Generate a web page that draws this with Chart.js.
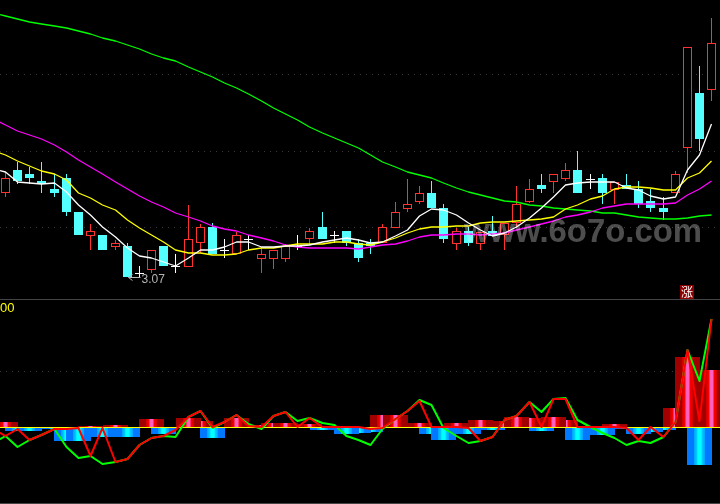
<!DOCTYPE html>
<html>
<head>
<meta charset="utf-8">
<title>K-line chart</title>
<script src="https://cdn.jsdelivr.net/npm/chart.js@4/dist/chart.umd.min.js"></script>
<style>
html,body{margin:0;padding:0;background:#000;overflow:hidden}
#wrap{position:relative;width:720px;height:504px;background:#000}
canvas{position:absolute;left:0;display:block}
#top{top:0}
#bot{top:300px}
.rule{position:absolute;left:0;width:720px;height:1px;background:#444}
</style>
</head>
<body>
<div id="wrap">
<canvas id="top" width="720" height="299"></canvas>
<div class="rule" style="top:299px"></div>
<canvas id="bot" width="720" height="203"></canvas>
<div class="rule" style="top:503px"></div>
</div>
<script>
const open = [3.485,3.60,3.58,3.545,3.505,3.56,3.39,3.27,3.275,3.215,
3.22,3.085,3.10,3.22,3.12,3.115,3.235,3.315,3.20,3.18,
3.255,3.155,3.155,3.155,3.22,3.255,3.315,3.275,3.295,3.235,
3.235,3.235,3.31,3.405,3.44,3.485,3.41,3.23,3.295,3.23,
3.295,3.275,3.335,3.44,3.525,3.54,3.555,3.60,3.555,3.56,
3.50,3.525,3.505,3.445,3.41,3.485,3.71,3.985,4.0];
const close = [3.56,3.545,3.56,3.53,3.485,3.39,3.275,3.295,3.20,3.235,
3.065,3.08,3.20,3.12,3.115,3.255,3.315,3.18,3.195,3.275,
3.25,3.18,3.20,3.22,3.215,3.295,3.255,3.27,3.235,3.16,
3.22,3.315,3.39,3.43,3.485,3.41,3.255,3.295,3.235,3.29,
3.27,3.335,3.43,3.505,3.505,3.58,3.60,3.485,3.55,3.485,
3.54,3.505,3.43,3.41,3.39,3.58,4.215,3.755,4.235];
const high = [3.59,3.64,3.615,3.64,3.58,3.58,3.39,3.33,3.275,3.25,
3.235,3.12,3.20,3.22,3.18,3.425,3.33,3.335,3.255,3.29,
3.275,3.215,3.20,3.23,3.275,3.31,3.39,3.295,3.295,3.255,
3.255,3.33,3.44,3.555,3.52,3.545,3.43,3.31,3.315,3.29,
3.37,3.335,3.52,3.555,3.58,3.58,3.635,3.695,3.58,3.58,
3.54,3.58,3.545,3.505,3.465,3.595,4.215,4.12,4.36];
const low = [3.465,3.53,3.53,3.485,3.465,3.37,3.275,3.20,3.20,3.20,
3.065,3.065,3.085,3.12,3.085,3.115,3.185,3.18,3.16,3.18,
3.20,3.085,3.105,3.14,3.20,3.225,3.255,3.235,3.22,3.14,
3.18,3.235,3.31,3.39,3.43,3.41,3.235,3.20,3.22,3.20,
3.27,3.20,3.315,3.435,3.485,3.485,3.545,3.485,3.505,3.43,
3.43,3.505,3.41,3.39,3.35,3.485,3.585,3.695,3.945];
const ma5 = [3.605,3.59,3.54,3.535,3.53,3.535,3.49,3.425,3.375,3.315,3.265,
3.21,3.17,3.16,3.14,3.12,3.16,3.20,3.20,3.215,3.24,
3.24,3.215,3.215,3.22,3.22,3.225,3.24,3.25,3.26,3.25,
3.235,3.24,3.27,3.30,3.37,3.405,3.40,3.375,3.335,3.30,
3.27,3.285,3.315,3.36,3.41,3.465,3.525,3.535,3.54,3.54,
3.54,3.51,3.50,3.47,3.455,3.465,3.60,3.675,3.83];
const ma10 = [3.695,3.675,3.645,3.62,3.595,3.58,3.55,3.485,3.46,3.425,3.40,
3.35,3.31,3.275,3.24,3.20,3.185,3.185,3.175,3.175,3.18,
3.20,3.21,3.21,3.22,3.23,3.23,3.23,3.24,3.24,3.23,
3.225,3.24,3.26,3.285,3.305,3.315,3.315,3.32,3.32,3.335,
3.34,3.34,3.345,3.35,3.355,3.365,3.405,3.425,3.455,3.47,
3.505,3.515,3.515,3.51,3.50,3.50,3.56,3.585,3.645];
const ma20 = [3.855,3.825,3.795,3.775,3.755,3.725,3.69,3.65,3.615,3.58,3.54,
3.505,3.47,3.44,3.415,3.385,3.365,3.345,3.32,3.305,3.295,
3.275,3.26,3.245,3.225,3.215,3.21,3.21,3.21,3.21,3.205,
3.215,3.225,3.23,3.245,3.265,3.275,3.275,3.28,3.28,3.275,
3.28,3.285,3.30,3.315,3.33,3.345,3.365,3.375,3.39,3.41,
3.42,3.43,3.43,3.43,3.43,3.435,3.475,3.505,3.545];
const ma60 = [4.385,4.37,4.355,4.34,4.33,4.32,4.31,4.295,4.28,4.26,4.245,
4.225,4.205,4.18,4.16,4.145,4.115,4.09,4.065,4.035,4.01,
3.98,3.945,3.91,3.88,3.85,3.815,3.785,3.76,3.735,3.71,
3.675,3.64,3.615,3.59,3.575,3.56,3.535,3.51,3.49,3.475,
3.46,3.445,3.44,3.425,3.42,3.41,3.405,3.40,3.395,3.385,
3.385,3.375,3.365,3.36,3.355,3.355,3.36,3.37,3.375];
const priceTicks = [4.08,3.695,3.315];
const hist = [6,-3,-3,-1,-1,-13,-13,2,-9,3,-9,0,9,-6,0,10,7,-10,0,10,
0,3,5,5,0,4,-2,0,-6,-5,-4,13,13,3,5,-6,-12,5,-6,8,
-2,7,11,10,-3,11,8,-12,0,-7,4,-1,-6,-4,-2,20,71,-37,58];
const signalRed = [-1,-8,-1,-12,-7,-1,-1,0,-28,0,-34,-31,-17,-10,-8,-2,11,17,1,6,13,
2,1,12,16,1,10,1,1,1,1,-1,0,9,17,27,1,1,1,0,-13,
-9,8,12,26,1,29,29,1,1,1,1,0,-12,1,-9,6,78,7,109];
const signalGreen = [-15,-8,-19,-12,-7,-1,-19,-30,-28,-36,-34,-31,-17,-10,-8,-9,11,17,0,6,13,
4,-1,12,16,7,10,5,3,-8,-12,-17,-1,9,17,28,23,0,-8,-15,-13,
-9,8,12,26,16,29,30,8,1,-5,-10,-17,-13,-15,-9,6,78,47,109];
const lowerTicks = [57];
const lowLabel = '3.07';
const badgeText = '涨';
const watermark = 'www.6o7o.com';
const cornerLabel = '00';

const RED='#ff3232', CYAN='#54ffff', WHITE='#ffffff';

class SnapScale extends Chart.LinearScale{
  static id='snap';
  static defaults=Chart.LinearScale.defaults;
  getPixelForValue(v){return Math.floor(super.getPixelForValue(v))+0.5;}
}
Chart.register(SnapScale);

const isDoji=i=>Math.abs(open[i]-close[i])<=0.0051;
const candleColor=i=>isDoji(i)?WHITE:(close[i]>open[i]?RED:CYAN);
const lineOf=(arr,color,width)=>({type:'line',data:arr.map((y,i)=>({x:i-1,y})),borderColor:color,borderWidth:width,borderJoinStyle:'round',pointRadius:0,tension:0,fill:false});
const xAxis={type:'snap',min:-0.442529,max:58.67077,offset:false,display:false,grid:{display:false}};
const yAxis=(min,max,tickVals)=>({type:'linear',min,max,position:'left',display:true,
  afterBuildTicks:s=>{s.ticks=tickVals.map(value=>({value}));},
  afterFit:s=>{s.width=0;},
  ticks:{display:false},
  grid:{color:'#383838',lineWidth:1,drawTicks:false,tickLength:0},
  border:{display:false,dash:[1,5]}});
const base={responsive:false,animation:false,devicePixelRatio:1,
  layout:{padding:0},plugins:{legend:{display:false},tooltip:{enabled:false}},events:[]};

const labelsPlugin={id:'labels',afterDraw(c){
  const ctx=c.ctx,x=c.scales.x,y=c.scales.y;
  ctx.save();
  // low-price marker
  const minLow=Math.min(...low),i=low.indexOf(minLow);
  const px=x.getPixelForValue(i),py=Math.round(y.getPixelForValue(minLow));
  ctx.strokeStyle='#b4b4b4';ctx.lineWidth=1;
  ctx.beginPath();ctx.moveTo(px+1,py+0.5);ctx.lineTo(px+13,py+0.5);
  ctx.moveTo(px+5,py-2.5);ctx.lineTo(px+1,py+0.5);ctx.lineTo(px+5,py+3.5);ctx.stroke();
  ctx.fillStyle='#b4b4b4';ctx.font='12px "Liberation Sans"';ctx.textBaseline='alphabetic';ctx.textAlign='left';
  ctx.fillText(lowLabel,px+14,py+6);
  // badge
  ctx.fillStyle='#8b0000';ctx.fillRect(680,285,14,14);
  ctx.fillStyle='#fff';ctx.font='12px "Noto Sans CJK SC"';ctx.textAlign='center';ctx.textBaseline='middle';
  ctx.fillText(badgeText,687,292);
  // watermark
  ctx.fillStyle='rgba(255,255,255,0.3)';ctx.font='bold 34px "Liberation Sans"';ctx.textAlign='left';ctx.textBaseline='alphabetic';
  ctx.fillText(watermark,464,242,238);
  ctx.restore();
}};

new Chart(document.getElementById('top'),{type:'bar',
  data:{datasets:[
    lineOf(ma5,WHITE,1.3),
    lineOf(ma10,'#ffff00',1.3),
    lineOf(ma20,'#ff00ff',1.3),
    lineOf(ma60,'#00ff00',1.3),
    {label:'body',data:open.map((o,i)=>({x:i,y:[o,close[i]]})),barThickness:9,grouped:false,inflateAmount:0,borderSkipped:false,borderWidth:1,
      borderColor:open.map((_,i)=>candleColor(i)),
      backgroundColor:open.map((_,i)=>close[i]>open[i]?'#000000':candleColor(i))},
    {label:'wick',data:high.map((h,i)=>({x:i,y:[low[i],h]})),barThickness:1,grouped:false,inflateAmount:0,borderWidth:0,
      backgroundColor:high.map((_,i)=>candleColor(i))}
  ]},
  options:{...base,scales:{x:xAxis,y:yAxis(2.955,4.45,priceTicks)}},
  plugins:[labelsPlugin]
});

const upStops=[[0,'#a00000'],[0.26,'#a00000'],[0.3,'#d40000'],[0.4,'#ff0000'],[0.44,'#ff60c0'],[0.56,'#ff60c0'],[0.6,'#ff0000'],[0.7,'#d40000'],[0.74,'#a00000'],[1,'#a00000']];
const downStops=[[0,'#0078ff'],[0.26,'#0078ff'],[0.28,'#00a0ff'],[0.38,'#00c8ff'],[0.44,'#00ffff'],[0.56,'#00ffff'],[0.62,'#00c8ff'],[0.72,'#00a0ff'],[0.74,'#0078ff'],[1,'#0078ff']];
const grad=stops=>ctx=>{
  if(ctx.type!=='data'||!ctx.raw)return stops[0][1];
  const px=ctx.chart.scales.x.getPixelForValue(ctx.raw.x);
  if(!Number.isFinite(px))return stops[0][1];
  const g=ctx.chart.ctx.createLinearGradient(px-12.5,0,px+12.5,0);
  stops.forEach(s=>g.addColorStop(s[0],s[1]));
  return g;
};
// taller bars overlap shorter neighbours
const histPoints=hist.map((y,x)=>({x,y})).filter(p=>p.y!==0).sort((a,b)=>Math.abs(a.y)-Math.abs(b.y));
const barOf=(pts,stops)=>({data:pts,barThickness:25,grouped:false,inflateAmount:0,borderWidth:0,backgroundColor:grad(stops)});

new Chart(document.getElementById('bot'),{type:'bar',
  data:{datasets:[
    lineOf(signalRed,'#ff0000',2),
    lineOf(signalGreen,'#00ff00',2),
    {type:'line',data:[{x:-1,y:0.5},{x:59,y:0.5}],borderColor:'#ffff00',borderWidth:1,pointRadius:0},
    barOf(histPoints.filter(p=>p.y>0),upStops),
    barOf(histPoints.filter(p=>p.y<0),downStops)
  ]},
  options:{...base,scales:{x:xAxis,y:yAxis(-75,128,lowerTicks)}},
  plugins:[{id:'corner',afterDraw(c){
    const ctx=c.ctx;ctx.save();ctx.fillStyle='#ffff00';ctx.font='13px "Liberation Sans"';ctx.textBaseline='alphabetic';ctx.textAlign='left';
    ctx.fillText(cornerLabel,0,12);ctx.restore();
  }}]
});
</script>
</body>
</html>
